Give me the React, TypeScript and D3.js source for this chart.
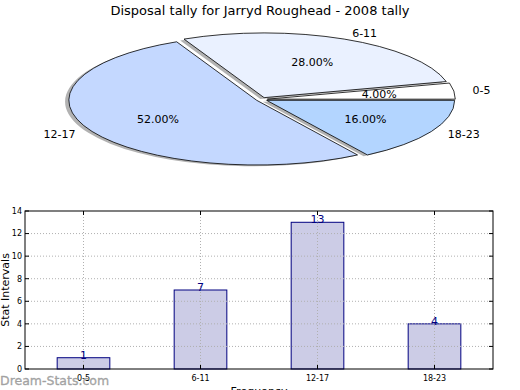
import React from 'react';
import * as d3 from 'd3';

// pie data
const pieLabels = ['0-5', '6-11', '12-17', '18-23'];
const pieValues = [4, 28, 52, 16];
const pieColors = ['#ffffff', '#eaf1ff', '#c4d8ff', '#b3d5ff'];

// bar data
const barCategories = ['0-5', '6-11', '12-17', '18-23'];
const barValues = [1, 7, 13, 4];
const yTicks = [0, 2, 4, 6, 8, 10, 12, 14];

const W = 520;
const H = 390;
const font = 'DejaVu Sans, sans-serif';

function Pie() {
  const cx = 261.7, cy = 99.4, rx = 188, ry = 64.7;
  const explode = 0.03;
  const total = d3.sum(pieValues);

  // matplotlib starts at 3 o'clock going counter-clockwise
  const pie = d3.pie<number>().sort(null).startAngle(Math.PI / 2).endAngle(Math.PI / 2 - 2 * Math.PI);
  const arcs = pie(pieValues);
  const arc = d3.arc<d3.PieArcDatum<number>>().innerRadius(0).outerRadius(1);

  return (
    <g>
      {arcs.map((a, i) => {
        const mid = (a.startAngle + a.endAngle) / 2;
        const ox = Math.sin(mid) * explode;
        const oy = -Math.cos(mid) * explode;
        return (
          <path key={'s' + i} d={arc(a) || ''}
            transform={`translate(${cx + (ox - 0.02) * rx},${cy + (oy + 0.02) * ry}) scale(${rx},${ry})`}
            fill="#666" fillOpacity={0.5} stroke="none" />
        );
      })}
      {arcs.map((a, i) => {
        const mid = (a.startAngle + a.endAngle) / 2;
        const ox = Math.sin(mid) * explode;
        const oy = -Math.cos(mid) * explode;
        return (
          <path key={'w' + i} d={arc(a) || ''}
            transform={`translate(${cx + ox * rx},${cy + oy * ry}) scale(${rx},${ry})`}
            fill={pieColors[i]} stroke="#000" strokeWidth={0.8} vectorEffect="non-scaling-stroke" />
        );
      })}
      {arcs.map((a, i) => {
        const mid = (a.startAngle + a.endAngle) / 2;
        const sx = Math.sin(mid), sy = -Math.cos(mid);
        const bx = cx + sx * explode * rx, by = cy + sy * explode * ry;
        return (
          <g key={'t' + i} fontFamily={font} fontSize={11} fill="#000">
            <text x={bx + sx * 1.1 * rx} y={by + sy * 1.1 * ry} dy="0.35em"
              textAnchor={sx > 0 ? 'start' : 'end'}>{pieLabels[i]}</text>
            <text x={bx + sx * 0.6 * rx} y={by + sy * 0.6 * ry} dy="0.35em"
              textAnchor="middle">{(pieValues[i] / total * 100).toFixed(2) + '%'}</text>
          </g>
        );
      })}
      <text x={260} y={15} textAnchor="middle" fontFamily={font} fontSize={13}>
        Disposal tally for Jarryd Roughead - 2008 tally
      </text>
    </g>
  );
}

function Bars() {
  const left = 25, right = 493, top = 211, bottom = 369;
  const x = d3.scaleLinear().domain([-0.5, barCategories.length - 0.5]).range([left, right]);
  const y = d3.scaleLinear().domain([0, 14]).range([bottom, top]);
  const bw = (x(0.45) - x(0));

  return (
    <g fontFamily={font}>
      {barCategories.map((c, i) => (
        <rect key={'b' + i} x={x(i) - bw / 2} y={y(barValues[i])} width={bw} height={y(0) - y(barValues[i])}
          fill="#cccce6" stroke="#000080" strokeWidth={1} />
      ))}
      {yTicks.map(t => (
        <g key={'y' + t}>
          {t > 0 && t < 14 && (
            <line x1={left} x2={right} y1={y(t)} y2={y(t)} stroke="#b0b0b0" strokeDasharray="1,2" />
          )}
          <line x1={left} x2={left + 4} y1={y(t)} y2={y(t)} stroke="#000" />
          <line x1={right - 4} x2={right} y1={y(t)} y2={y(t)} stroke="#000" />
          <text x={left - 3} y={y(t)} dy="0.35em" textAnchor="end" fontSize={8}>{t}</text>
        </g>
      ))}
      {barCategories.map((c, i) => (
        <g key={'x' + i}>
          <line x1={x(i)} x2={x(i)} y1={top} y2={bottom} stroke="#b0b0b0" strokeDasharray="1,2" />
          <line x1={x(i)} x2={x(i)} y1={bottom - 4} y2={bottom} stroke="#000" />
          <line x1={x(i)} x2={x(i)} y1={top} y2={top + 4} stroke="#000" />
          <text x={x(i)} y={381} textAnchor="middle" fontSize={8}>{c}</text>
        </g>
      ))}
      {barValues.map((v, i) => (
        <text key={'v' + i} x={x(i)} y={y(v) + 1} textAnchor="middle" fontSize={11} fill="#000080">{v}</text>
      ))}
      <rect x={left} y={top} width={right - left} height={bottom - top} fill="none" stroke="#000" strokeWidth={1} />
      <text transform={`translate(5,${(top + bottom) / 2}) rotate(-90)`} textAnchor="middle" fontSize={11} dy="0.35em">
        Stat Intervals
      </text>
      <text x={259} y={395} textAnchor="middle" fontSize={11}>Frequency</text>
      <text x={0} y={385} fontSize={12.5} fill="#999" fillOpacity={0.85}
        stroke="#999" strokeWidth={0.4} strokeOpacity={0.85}>Dream-Stats.com</text>
    </g>
  );
}

export default function App() {
  return (
    <svg width={W} height={H} style={{ position: 'absolute', left: 0, top: 0, background: '#fff' }}>
      <rect width={W} height={H} fill="#fff" />
      <Pie />
      <Bars />
    </svg>
  );
}
